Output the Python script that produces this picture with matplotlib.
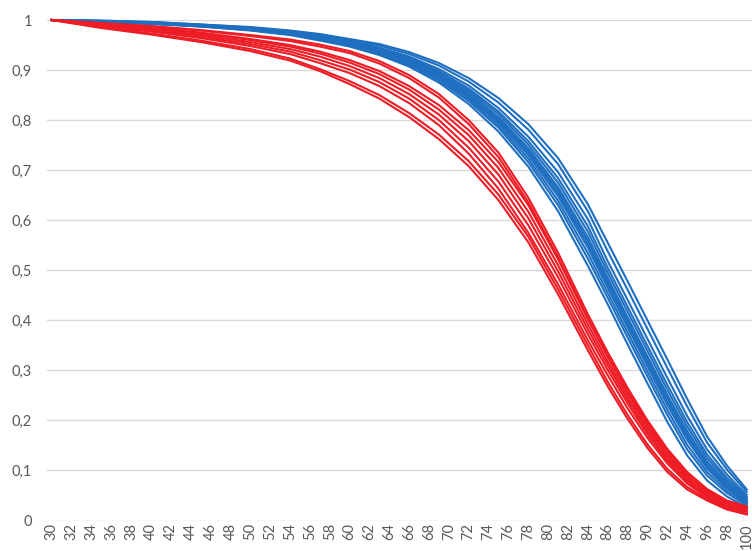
import matplotlib
matplotlib.use('Agg')
import matplotlib.pyplot as plt

# ages (x) shared by all curves
ages = [30, 35, 40, 45, 50, 54, 57, 60, 63, 66, 69, 72, 75, 78, 81, 84, 86, 88, 90, 92, 94, 96, 98, 100]

# blue bundle
blue_01 = [1.000, 0.996, 0.992, 0.987, 0.979, 0.970, 0.959, 0.947, 0.930, 0.907, 0.875, 0.832, 0.777, 0.707, 0.618, 0.509, 0.432, 0.352, 0.274, 0.197, 0.130, 0.080, 0.048, 0.026]
blue_02 = [1.000, 0.997, 0.993, 0.987, 0.980, 0.971, 0.961, 0.949, 0.932, 0.910, 0.879, 0.838, 0.785, 0.716, 0.630, 0.523, 0.445, 0.366, 0.288, 0.211, 0.142, 0.090, 0.055, 0.030]
blue_03 = [1.000, 0.997, 0.993, 0.988, 0.980, 0.971, 0.962, 0.950, 0.934, 0.912, 0.883, 0.842, 0.790, 0.723, 0.639, 0.534, 0.455, 0.376, 0.298, 0.221, 0.151, 0.097, 0.060, 0.033]
blue_04 = [1.000, 0.997, 0.993, 0.988, 0.981, 0.972, 0.963, 0.951, 0.936, 0.915, 0.886, 0.846, 0.795, 0.730, 0.648, 0.545, 0.465, 0.386, 0.308, 0.231, 0.161, 0.104, 0.065, 0.036]
blue_05 = [1.000, 0.997, 0.993, 0.988, 0.981, 0.973, 0.963, 0.952, 0.937, 0.916, 0.888, 0.849, 0.799, 0.735, 0.654, 0.552, 0.472, 0.393, 0.315, 0.238, 0.167, 0.109, 0.068, 0.038]
blue_06 = [1.000, 0.997, 0.994, 0.989, 0.981, 0.973, 0.964, 0.953, 0.938, 0.918, 0.890, 0.852, 0.803, 0.739, 0.660, 0.559, 0.478, 0.400, 0.322, 0.244, 0.173, 0.113, 0.071, 0.040]
blue_07 = [1.000, 0.997, 0.994, 0.989, 0.982, 0.974, 0.965, 0.954, 0.939, 0.919, 0.892, 0.855, 0.806, 0.744, 0.666, 0.566, 0.485, 0.406, 0.328, 0.251, 0.179, 0.118, 0.075, 0.042]
blue_08 = [1.000, 0.998, 0.994, 0.989, 0.982, 0.974, 0.966, 0.955, 0.941, 0.922, 0.895, 0.859, 0.812, 0.751, 0.675, 0.577, 0.495, 0.417, 0.339, 0.261, 0.188, 0.125, 0.080, 0.045]
blue_09 = [1.000, 0.998, 0.995, 0.990, 0.983, 0.975, 0.967, 0.956, 0.943, 0.924, 0.898, 0.863, 0.817, 0.758, 0.684, 0.588, 0.505, 0.427, 0.349, 0.271, 0.197, 0.132, 0.085, 0.047]
blue_10 = [1.000, 0.998, 0.995, 0.990, 0.984, 0.976, 0.968, 0.958, 0.945, 0.927, 0.902, 0.869, 0.824, 0.767, 0.696, 0.602, 0.518, 0.441, 0.363, 0.285, 0.209, 0.142, 0.092, 0.051]
blue_11 = [1.000, 0.998, 0.996, 0.991, 0.985, 0.978, 0.970, 0.960, 0.949, 0.932, 0.909, 0.877, 0.835, 0.781, 0.712, 0.618, 0.538, 0.461, 0.383, 0.305, 0.228, 0.156, 0.102, 0.057]
blue_12 = [1.000, 0.999, 0.996, 0.991, 0.986, 0.979, 0.972, 0.962, 0.952, 0.936, 0.914, 0.884, 0.844, 0.792, 0.724, 0.632, 0.555, 0.478, 0.400, 0.322, 0.243, 0.168, 0.110, 0.062]

# red bundle
red_01 = [1.000, 0.994, 0.988, 0.980, 0.970, 0.961, 0.951, 0.938, 0.918, 0.890, 0.852, 0.800, 0.735, 0.645, 0.535, 0.412, 0.336, 0.265, 0.200, 0.143, 0.097, 0.063, 0.040, 0.028]
red_02 = [1.000, 0.993, 0.987, 0.979, 0.968, 0.958, 0.947, 0.934, 0.913, 0.884, 0.845, 0.792, 0.726, 0.636, 0.526, 0.404, 0.329, 0.259, 0.195, 0.139, 0.093, 0.060, 0.038, 0.026]
red_03 = [1.000, 0.992, 0.985, 0.975, 0.962, 0.950, 0.937, 0.920, 0.898, 0.868, 0.830, 0.780, 0.716, 0.630, 0.522, 0.402, 0.327, 0.255, 0.190, 0.134, 0.089, 0.057, 0.036, 0.024]
red_04 = [1.000, 0.991, 0.983, 0.973, 0.960, 0.947, 0.933, 0.915, 0.892, 0.861, 0.821, 0.770, 0.704, 0.617, 0.510, 0.392, 0.318, 0.248, 0.184, 0.129, 0.085, 0.054, 0.034, 0.022]
red_05 = [1.000, 0.990, 0.981, 0.970, 0.956, 0.942, 0.927, 0.908, 0.884, 0.852, 0.811, 0.758, 0.691, 0.604, 0.498, 0.382, 0.310, 0.241, 0.178, 0.124, 0.081, 0.051, 0.031, 0.020]
red_06 = [1.000, 0.989, 0.979, 0.967, 0.952, 0.937, 0.920, 0.901, 0.876, 0.843, 0.800, 0.745, 0.677, 0.590, 0.486, 0.372, 0.301, 0.234, 0.172, 0.119, 0.078, 0.049, 0.029, 0.018]
red_07 = [1.000, 0.988, 0.977, 0.964, 0.948, 0.932, 0.914, 0.894, 0.868, 0.834, 0.790, 0.733, 0.663, 0.575, 0.472, 0.360, 0.290, 0.224, 0.165, 0.114, 0.074, 0.046, 0.027, 0.017]
red_08 = [1.000, 0.986, 0.973, 0.959, 0.942, 0.923, 0.902, 0.878, 0.850, 0.814, 0.771, 0.718, 0.651, 0.567, 0.462, 0.350, 0.277, 0.211, 0.152, 0.103, 0.067, 0.043, 0.024, 0.013]
red_09 = [1.000, 0.984, 0.971, 0.956, 0.938, 0.919, 0.898, 0.872, 0.843, 0.806, 0.762, 0.708, 0.640, 0.556, 0.452, 0.340, 0.268, 0.203, 0.145, 0.097, 0.062, 0.040, 0.022, 0.012]

# axis ticks
x_ticks = list(range(30, 101, 2))
x_labels = [str(v) for v in x_ticks]
y_ticks = [0, 0.1, 0.2, 0.3, 0.4, 0.5, 0.6, 0.7, 0.8, 0.9, 1.0]
y_labels = ['0', '0,1', '0,2', '0,3', '0,4', '0,5', '0,6', '0,7', '0,8', '0,9', '1']

blue_series = [blue_01, blue_02, blue_03, blue_04, blue_05, blue_06,
               blue_07, blue_08, blue_09, blue_10, blue_11, blue_12]
red_series = [red_01, red_02, red_03, red_04, red_05, red_06, red_07, red_08, red_09]

plt.rcParams['font.family'] = ['Lato', 'DejaVu Sans']

fig = plt.figure(figsize=(7.52, 5.51), dpi=100)
ax = fig.add_axes([46.7 / 752, 30.5 / 551, 705 / 752, 500.5 / 551])

for s in blue_series:
    ax.plot(ages, s, color='#1f6fc1', lw=1.5, clip_on=False, zorder=3)
for s in red_series:
    ax.plot(ages, s, color='#ee1c25', lw=1.5, clip_on=False, zorder=4)

ax.set_xlim(29.5, 100.5)
ax.set_ylim(0, 1)
ax.set_xticks(x_ticks)
ax.set_xticklabels(x_labels, rotation=90, fontsize=10.5)
ax.set_yticks(y_ticks)
ax.set_yticklabels(y_labels, fontsize=10.5)
ax.tick_params(axis='both', length=0, colors='#595959')
ax.tick_params(axis='y', pad=10.5)
ax.tick_params(axis='x', pad=2)

for sp in ax.spines.values():
    sp.set_visible(False)
ax.yaxis.grid(True, color='#d9d9d9', lw=1.0)
ax.set_axisbelow(True)

fig.savefig('out.png', dpi=100)
